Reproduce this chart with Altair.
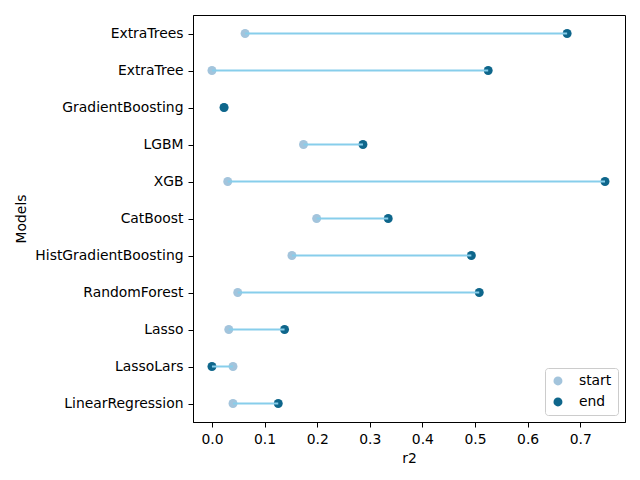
import altair as alt
import pandas as pd

# Models listed top to bottom
models = [
    "ExtraTrees", "ExtraTree", "GradientBoosting", "LGBM", "XGB", "CatBoost",
    "HistGradientBoosting", "RandomForest", "Lasso", "LassoLars", "LinearRegression",
]
start_r2 = [0.063, 0.000, 0.023, 0.174, 0.030, 0.199, 0.152, 0.049, 0.032, 0.040, 0.040]
end_r2 = [0.675, 0.525, 0.023, 0.287, 0.747, 0.335, 0.493, 0.508, 0.138, 0.000, 0.126]
x_ticks = [0.0, 0.1, 0.2, 0.3, 0.4, 0.5, 0.6, 0.7]

df = pd.DataFrame({"model": models, "start": start_r2, "end": end_r2})

FONT = "DejaVu Sans"
FS = 13.9

y_enc = alt.Y(
    "model:N",
    sort=models,
    scale=alt.Scale(type="point", padding=0.5),
    axis=alt.Axis(
        title="Models", labelFontSize=FS, titleFontSize=FS, titleFontWeight="normal",
        tickSize=5, labelPadding=5, titlePadding=6, domainColor="black",
        tickColor="black", labelColor="black", titleColor="black", labelLimit=300,
    ),
)
x_scale = alt.Scale(domain=[-0.036, 0.785], nice=False, zero=False)
x_axis = alt.Axis(
    title="r2", values=x_ticks, format=".1f", labelFontSize=FS, titleFontSize=FS,
    titleFontWeight="normal", tickSize=5, labelPadding=5, titlePadding=6,
    domainColor="black", tickColor="black", labelColor="black", titleColor="black",
    grid=False,
)

# start dots first, end dots drawn above them
points = alt.Chart(df).transform_fold(
    ["start", "end"], as_=["series", "value"]
).mark_circle(size=80, opacity=1).encode(
    x=alt.X("value:Q", scale=x_scale, axis=x_axis),
    y=y_enc,
    color=alt.Color(
        "series:N",
        scale=alt.Scale(domain=["start", "end"], range=["#a3c4dc", "#0e668b"]),
        legend=alt.Legend(
            title=None, orient="bottom-right", offset=7, fillColor="white",
            strokeColor="#cccccc", cornerRadius=3, padding=6, symbolType="circle",
            symbolSize=80, symbolOpacity=1, labelFontSize=FS, labelFont=FONT,
            labelOffset=14, rowPadding=6, labelColor="black",
        ),
    ),
    order=alt.Order("series:N", sort="descending"),
)

sticks = alt.Chart(df).mark_rule(color="skyblue", strokeWidth=2).encode(
    x=alt.X("start:Q", scale=x_scale, axis=x_axis),
    x2="end:Q",
    y=y_enc,
)

chart = (
    alt.layer(points, sticks)
    .properties(
        width=432, height=407,
        autosize=alt.AutoSizeParams(type="none"),
        padding={"left": 193, "top": 15, "right": 15, "bottom": 58},
    )
    .configure(font=FONT)
    .configure_view(stroke="black", strokeWidth=1)
)

chart.save("out.html", embed_options={"renderer": "svg", "actions": False})
